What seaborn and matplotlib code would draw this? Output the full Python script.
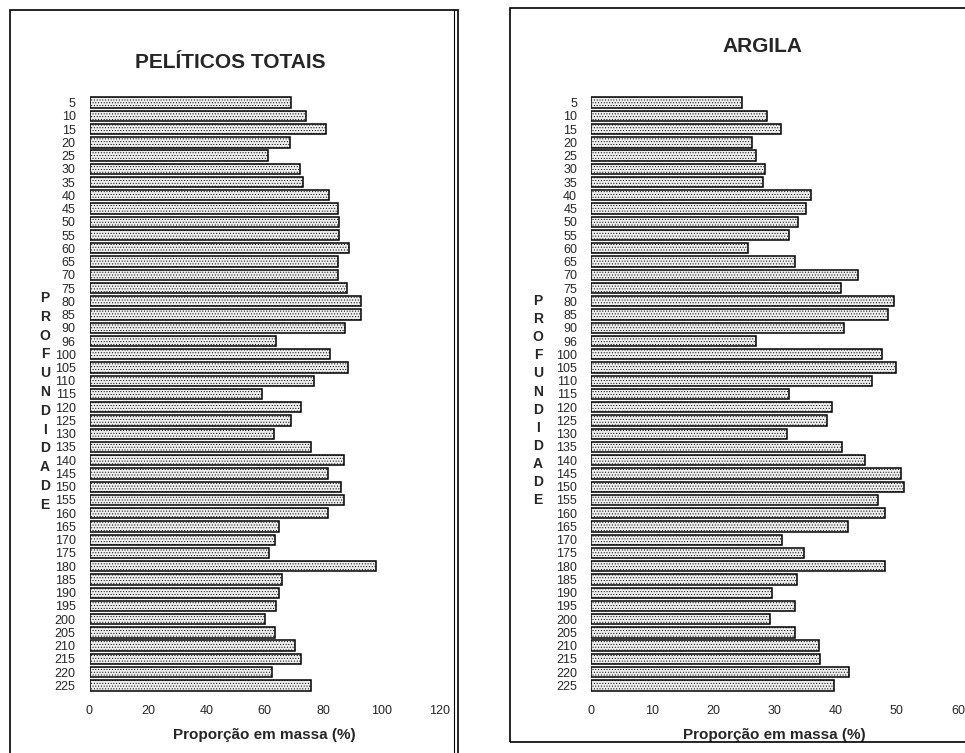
import seaborn as sns
import matplotlib.pyplot as plt
import pandas as pd
from matplotlib.patches import Rectangle
from matplotlib.lines import Line2D

# profundidades (cm) - note the "96" sample
depths = ["5", "10", "15", "20", "25", "30", "35", "40", "45", "50", "55", "60",
          "65", "70", "75", "80", "85", "90", "96", "100", "105", "110", "115",
          "120", "125", "130", "135", "140", "145", "150", "155", "160", "165",
          "170", "175", "180", "185", "190", "195", "200", "205", "210", "215",
          "220", "225"]

peliticos = [69, 74, 81, 68.5, 61, 72, 73, 82, 85, 85.5, 85.5, 89, 85, 85, 88,
             93, 93, 87.5, 64, 82.5, 88.5, 77, 59, 72.5, 69, 63, 76, 87, 81.5,
             86, 87, 81.5, 65, 63.5, 61.5, 98, 66, 65, 64, 60, 63.5, 70.5, 72.5,
             62.5, 76]

argila = [24.7, 28.8, 31.1, 26.4, 27.0, 28.4, 28.1, 36.0, 35.1, 33.8, 32.3, 25.6,
          33.4, 43.6, 40.9, 49.6, 48.6, 41.3, 27.0, 47.6, 49.9, 46.0, 32.3, 39.4,
          38.6, 32.0, 41.0, 44.8, 50.6, 51.2, 47.0, 48.0, 42.0, 31.2, 34.9, 48.1,
          33.7, 29.6, 33.3, 29.2, 33.4, 37.3, 37.5, 42.1, 39.8]

df = pd.DataFrame({"prof": depths, "peliticos": peliticos, "argila": argila})

sns.set_style("white")
plt.rcParams["font.family"] = ["Liberation Sans", "DejaVu Sans"]
plt.rcParams["hatch.linewidth"] = 0.4
plt.rcParams["hatch.color"] = "#8a8a8a"

W, H = 965, 753
fig = plt.figure(figsize=(W / 100, H / 100), dpi=100)


def fx(px):
    return px / W


def fy(py):
    return 1 - py / H


def draw_panel(ax, col, xmax, step):
    sns.barplot(data=df, x=col, y="prof", orient="h", color="#eeeeee",
                edgecolor="black", linewidth=1.1, width=0.78, ax=ax)
    for p in ax.patches:
        p.set_hatch("......")
    ax.set_xlim(0, xmax)
    ax.set_xticks(range(0, xmax + 1, step))
    ax.set_ylabel("")
    ax.set_xlabel("Proporção em massa (%)", fontsize=11, fontweight="bold",
                  labelpad=8)
    ax.tick_params(axis="both", length=0)
    ax.tick_params(axis="y", pad=10, labelsize=9)
    ax.tick_params(axis="x", pad=9, labelsize=9)
    sns.despine(ax=ax, left=True, bottom=True)
    ax.set_facecolor("none")


top, bot = 96, 692
ax1 = fig.add_axes([fx(89.5), fy(bot), fx(440 - 89.5), (bot - top) / H])
draw_panel(ax1, "peliticos", 120, 20)

ax2 = fig.add_axes([fx(591), fy(bot), fx(958 - 591), (bot - top) / H])
draw_panel(ax2, "argila", 60, 10)

# titles
fig.text(fx(230), fy(63), "PELÍTICOS TOTAIS", ha="center", va="center",
         fontsize=15, fontweight="bold")
fig.text(fx(762), fy(47), "ARGILA", ha="center", va="center",
         fontsize=15, fontweight="bold")

# stacked vertical label
word = "PROFUNDIDADE"
for i, ch in enumerate(word):
    fig.text(fx(45), fy(298 + i * 18.8), ch, ha="center", va="center",
             fontsize=10, fontweight="bold")
    fig.text(fx(538), fy(301 + i * 18.1), ch, ha="center", va="center",
             fontsize=10, fontweight="bold")

# panel frames
fig.add_artist(Rectangle((fx(10), fy(770)), fx(458 - 10), (770 - 10) / H,
                         transform=fig.transFigure, fill=False, lw=1.2, color="black"))
fig.add_artist(Line2D([fx(454), fx(454)], [fy(10), fy(770)],
                      transform=fig.transFigure, lw=0.8, color="black"))
fig.add_artist(Rectangle((fx(510), fy(742)), fx(990 - 510), (742 - 8) / H,
                         transform=fig.transFigure, fill=False, lw=1.2, color="black"))

fig.savefig("out.png", dpi=100)
